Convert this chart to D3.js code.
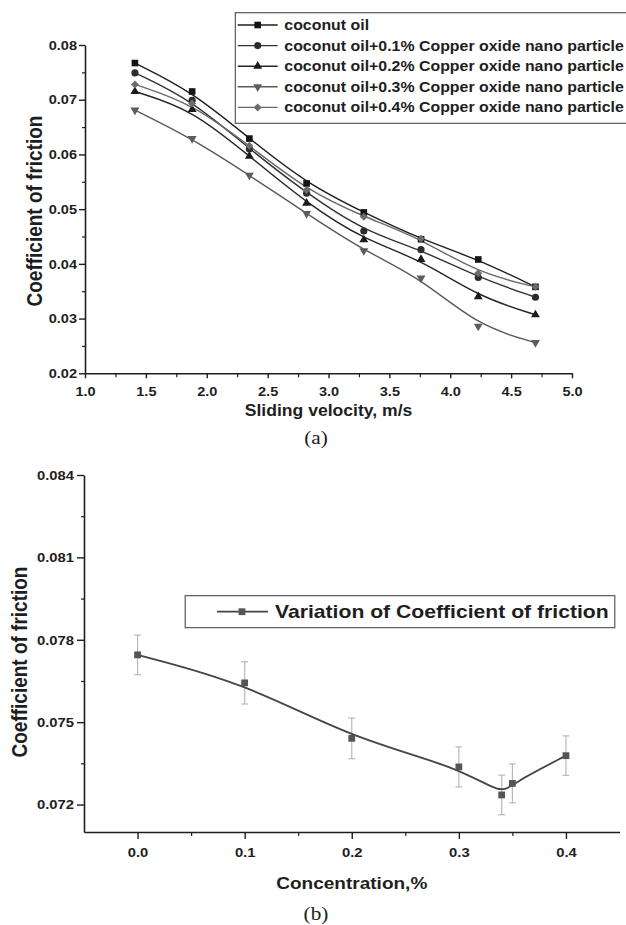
<!DOCTYPE html>
<html>
<head>
<meta charset="utf-8">
<script src="https://cdn.jsdelivr.net/npm/d3@7"></script>
<style>
  html, body { margin: 0; padding: 0; background: #fff; }
  svg { display: block; }
</style>
</head>
<body>
<svg id="fig" width="626" height="925"></svg>
<script>
// ---------- (a) friction vs sliding velocity ----------
const velocity = [1.41, 1.88, 2.35, 2.82, 3.29, 3.76, 4.23, 4.70];
const coconutOil = [0.0767, 0.0715, 0.0629, 0.0547, 0.0494, 0.0445, 0.0408, 0.0358];
const cuO01 = [0.0749, 0.0699, 0.0610, 0.0529, 0.0460, 0.0426, 0.0375, 0.0339];
const cuO02 = [0.0715, 0.0682, 0.0597, 0.0511, 0.0444, 0.0408, 0.0340, 0.0307];
const cuO03 = [0.0681, 0.0629, 0.0562, 0.0492, 0.0424, 0.0374, 0.0286, 0.0256];
const cuO04 = [0.0728, 0.0693, 0.0616, 0.0535, 0.0486, 0.0446, 0.0383, 0.0358];
const seriesLabels = [
  "coconut oil",
  "coconut oil+0.1% Copper oxide nano particle",
  "coconut oil+0.2% Copper oxide nano particle",
  "coconut oil+0.3% Copper oxide nano particle",
  "coconut oil+0.4% Copper oxide nano particle"
];
const velocityTicks = [1.0, 1.5, 2.0, 2.5, 3.0, 3.5, 4.0, 4.5, 5.0];
const velocityMinor = [1.25, 1.75, 2.25, 2.75, 3.25, 3.75, 4.25, 4.75];
const frictionTicksA = [0.02, 0.03, 0.04, 0.05, 0.06, 0.07, 0.08];
const frictionMinorA = [0.025, 0.035, 0.045, 0.055, 0.065, 0.075];

// ---------- (b) friction vs concentration ----------
const concentration = [0.0, 0.1, 0.2, 0.3, 0.34, 0.35, 0.4];
const frictionB = [0.07745, 0.07643, 0.07441, 0.07337, 0.07235, 0.07277, 0.07378];
const frictionErr = [0.00072, 0.00077, 0.00074, 0.00073, 0.00072, 0.00071, 0.00072];
const legendLabelB = "Variation of Coefficient of friction";
const concentrationTicks = [0.0, 0.1, 0.2, 0.3, 0.4];
const concentrationMinor = [0.05, 0.15, 0.25, 0.35];
const frictionTicksB = [0.072, 0.075, 0.078, 0.081, 0.084];
const frictionMinorB = [0.0735, 0.0765, 0.0795, 0.0825];

// ---------- styling ----------
const SX = 1.12;                       // glyphs are set a little wide
const SANS = "'Liberation Sans', Arial, Helvetica, sans-serif";
const SERIF = "'Liberation Serif', 'Times New Roman', serif";
const INK = "#1e1e1e";

const seriesStyle = [
  { symbol: d3.symbolSquare,   size: 44, rot: 0,   mark: "#141414", line: "#1e1e1e" },
  { symbol: d3.symbolCircle,   size: 40, rot: 0,   mark: "#2c2c2c", line: "#333333" },
  { symbol: d3.symbolTriangle, size: 34, rot: 0,   mark: "#1a1a1a", line: "#262626" },
  { symbol: d3.symbolTriangle, size: 34, rot: 180, mark: "#5c5c5c", line: "#5a5a5a" },
  { symbol: d3.symbolSquare,   size: 32, rot: 45,  mark: "#6c6c6c", line: "#6a6a6a" }
];

const svg = d3.select("#fig");

function wideText(parent, x, y, str, size, opts = {}) {
  return parent.append("text")
    .attr("transform", `translate(${x},${y}) scale(${SX},1)` + (opts.rotate ? ` rotate(${opts.rotate})` : ""))
    .attr("font-family", opts.family || SANS)
    .attr("font-weight", opts.weight || "bold")
    .attr("font-size", size)
    .attr("text-anchor", opts.anchor || "middle")
    .attr("dy", "0.35em")
    .attr("fill", INK)
    .text(str);
}

function styleAxis(g, fontSize) {
  g.attr("font-family", null).attr("font-size", null);
  g.select(".domain").attr("stroke", INK).attr("stroke-width", 1.6);
  g.selectAll(".tick line").attr("stroke", INK).attr("stroke-width", 1.4);
  g.selectAll(".tick text")
    .attr("font-family", SANS).attr("font-weight", "bold")
    .attr("font-size", fontSize).attr("fill", INK);
}

function leftAxis(g, scale, ticks, fmt, size, pad, fontSize) {
  g.call(d3.axisLeft(scale).tickValues(ticks).tickFormat(fmt)
    .tickSize(size).tickPadding(pad).tickSizeOuter(0));
  styleAxis(g, fontSize);
  g.selectAll(".tick text")
    .attr("x", -(size + pad) / SX)
    .attr("transform", `scale(${SX},1)`);
}

function bottomAxis(g, scale, ticks, fmt, size, pad, fontSize) {
  g.call(d3.axisBottom(scale).tickValues(ticks).tickFormat(fmt)
    .tickSize(size).tickPadding(pad).tickSizeOuter(0));
  styleAxis(g, fontSize);
  g.selectAll(".tick text").attr("transform", `scale(${SX},1)`);
}

function minorAxis(g, axis, scale, ticks, size) {
  g.call(axis(scale).tickValues(ticks).tickFormat(() => "").tickSize(size));
  g.select(".domain").remove();
  g.selectAll(".tick line").attr("stroke", INK).attr("stroke-width", 1.2);
}

// ================= chart (a) =================
const xA = d3.scaleLinear().domain([1, 5]).range([85, 572]);
const yA = d3.scaleLinear().domain([0.02, 0.08]).range([373.3, 45]);
const gA = svg.append("g");

minorAxis(gA.append("g").attr("transform", `translate(0,${yA(0.02)})`), d3.axisBottom, xA, velocityMinor, 4);
minorAxis(gA.append("g").attr("transform", `translate(${xA(1)},0)`), d3.axisLeft, yA, frictionMinorA, 3);
bottomAxis(gA.append("g").attr("transform", `translate(0,${yA(0.02)})`),
  xA, velocityTicks, d3.format(".1f"), 5, 8, 13);
leftAxis(gA.append("g").attr("transform", `translate(${xA(1)},0)`),
  yA, frictionTicksA, d3.format(".2f"), 6, 2, 13);

const seriesA = [coconutOil, cuO01, cuO02, cuO03, cuO04];
const lineA = d3.line().x(d => xA(d[0])).y(d => yA(d[1])).curve(d3.curveBasis);

seriesA.forEach((vals, i) => {
  const st = seriesStyle[i];
  const pts = velocity.map((v, k) => [v, vals[k]]);
  gA.append("path").attr("d", lineA(pts))
    .attr("fill", "none").attr("stroke", st.line).attr("stroke-width", 1.4);
});
seriesA.forEach((vals, i) => {
  const st = seriesStyle[i];
  gA.append("g").selectAll("path").data(velocity.map((v, k) => [v, vals[k]])).join("path")
    .attr("d", d3.symbol(st.symbol, st.size)())
    .attr("transform", d => `translate(${xA(d[0])},${yA(d[1])}) rotate(${st.rot})`)
    .attr("fill", st.mark);
});

// axis titles
wideText(gA, (xA(1) + xA(5)) / 2, 410, "Sliding velocity, m/s", 15.7);
wideText(gA, 34.5, 211, "Coefficient of friction", 19, { rotate: -90 });
wideText(svg, 316, 437, "(a)", 19, { family: SERIF, weight: "normal" });

// legend
const legA = gA.append("g");
legA.append("rect").attr("x", 235.3).attr("y", 12.7).attr("width", 420).attr("height", 110.6)
  .attr("fill", "#fff").attr("stroke", "#4a4a4a").attr("stroke-width", 1.1);
seriesLabels.forEach((lab, i) => {
  const st = seriesStyle[i];
  const y = 25 + i * 20.6;
  legA.append("line").attr("x1", 237.7).attr("x2", 277.7).attr("y1", y).attr("y2", y)
    .attr("stroke", st.line).attr("stroke-width", 1.4);
  legA.append("path").attr("d", d3.symbol(st.symbol, st.size)())
    .attr("transform", `translate(257.7,${y}) rotate(${st.rot})`).attr("fill", st.mark);
  wideText(legA, 284.3, y, lab, 14.2, { anchor: "start" });
});

// ================= chart (b) =================
const xB = d3.scaleLinear().domain([-0.05, 0.45]).range([84, 619.5]);
const yB = d3.scaleLinear().domain([0.071, 0.084]).range([832, 475]);
const gB = svg.append("g");

minorAxis(gB.append("g").attr("transform", `translate(0,${yB(0.071)})`), d3.axisBottom, xB, concentrationMinor, 4);
minorAxis(gB.append("g").attr("transform", `translate(${xB(-0.05)},0)`), d3.axisLeft, yB, frictionMinorB, 3);
bottomAxis(gB.append("g").attr("transform", `translate(0,${yB(0.071)})`),
  xB, concentrationTicks, d3.format(".1f"), 7, 9, 13.2);
leftAxis(gB.append("g").attr("transform", `translate(${xB(-0.05)},0)`),
  yB, frictionTicksB, d3.format(".3f"), 7, 3, 13.2);

const ptsB = concentration.map((c, k) => ({ c, v: frictionB[k], e: frictionErr[k] }));

// error bars
const errG = gB.append("g").attr("stroke", "#b8b8b8").attr("stroke-width", 1.2);
ptsB.forEach(p => {
  const x = xB(p.c), y1 = yB(p.v - p.e), y2 = yB(p.v + p.e);
  errG.append("line").attr("x1", x).attr("x2", x).attr("y1", y1).attr("y2", y2);
  errG.append("line").attr("x1", x - 3.4).attr("x2", x + 3.4).attr("y1", y1).attr("y2", y1);
  errG.append("line").attr("x1", x - 3.4).attr("x2", x + 3.4).attr("y1", y2).attr("y2", y2);
});

const lineB = d3.line().x(d => xB(d.c)).y(d => yB(d.v)).curve(d3.curveBasis);
gB.append("path").attr("d", lineB(ptsB))
  .attr("fill", "none").attr("stroke", "#454545").attr("stroke-width", 1.8);
gB.append("g").selectAll("path").data(ptsB).join("path")
  .attr("d", d3.symbol(d3.symbolSquare, 46)())
  .attr("transform", d => `translate(${xB(d.c)},${yB(d.v)})`)
  .attr("fill", "#555555");

wideText(gB, (xB(-0.05) + xB(0.45)) / 2, 883, "Concentration,%", 17);
wideText(gB, 20, 662, "Coefficient of friction", 19, { rotate: -90 });
wideText(svg, 316, 913, "(b)", 19, { family: SERIF, weight: "normal" });

// legend
const legB = gB.append("g");
legB.append("rect").attr("x", 185.2).attr("y", 595.7).attr("width", 429.6).attr("height", 32)
  .attr("fill", "#fff").attr("stroke", "#4a4a4a").attr("stroke-width", 1.1);
legB.append("line").attr("x1", 217).attr("x2", 268).attr("y1", 611.7).attr("y2", 611.7)
  .attr("stroke", "#454545").attr("stroke-width", 1.8);
legB.append("path").attr("d", d3.symbol(d3.symbolSquare, 46)())
  .attr("transform", "translate(242,611.7)").attr("fill", "#555555");
wideText(legB, 275, 611.7, legendLabelB, 18.9, { anchor: "start" });
</script>
</body>
</html>
